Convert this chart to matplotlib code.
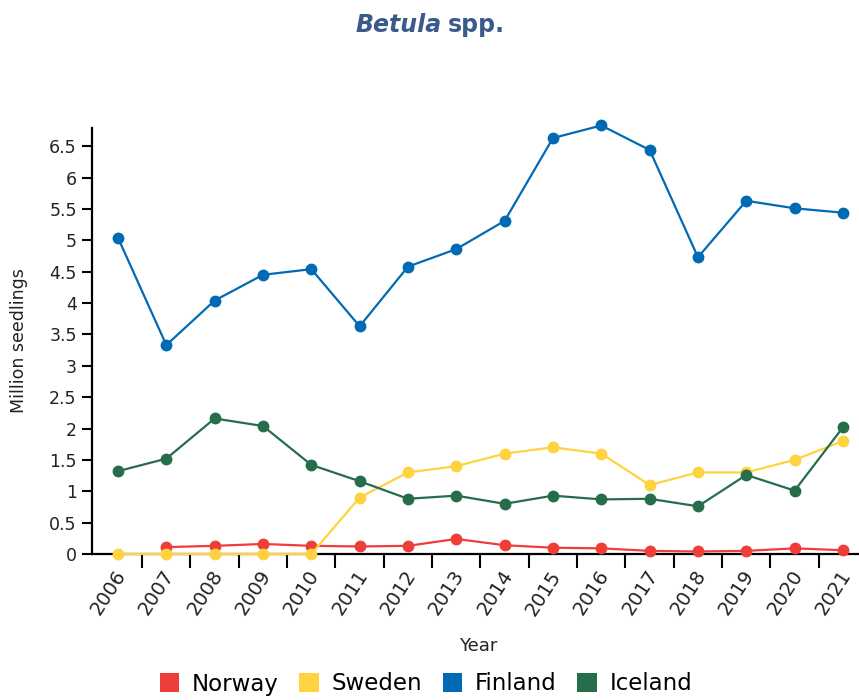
import numpy as np
import matplotlib
matplotlib.use('Agg')
import matplotlib.pyplot as plt
import matplotlib.transforms as mtransforms
from matplotlib.patches import Patch

plt.rcParams['font.family'] = ['DejaVu Sans']

years = np.arange(2006, 2022)

# Million seedlings per country
norway = [np.nan, 0.11, 0.13, 0.16, 0.13, 0.12, 0.13, 0.24, 0.14, 0.10, 0.09, 0.05, 0.04, 0.05, 0.09, 0.06]
sweden = [0.0, 0.0, 0.0, 0.0, 0.0, 0.90, 1.30, 1.40, 1.60, 1.70, 1.60, 1.10, 1.30, 1.30, 1.50, 1.80]
finland = [5.04, 3.33, 4.04, 4.45, 4.54, 3.63, 4.58, 4.86, 5.31, 6.63, 6.83, 6.44, 4.73, 5.63, 5.51, 5.44]
iceland = [1.32, 1.52, 2.16, 2.04, 1.42, 1.16, 0.88, 0.93, 0.80, 0.93, 0.87, 0.88, 0.76, 1.26, 1.01, 2.02]

series = ['Norway', 'Sweden', 'Finland', 'Iceland']
colors = ['#EF3E3A', '#FFD23F', '#006AB4', '#266D4C']

fig = plt.figure(figsize=(8.59, 7.0), dpi=100)
W, H = 859, 700
ax = fig.add_axes([92 / W, 146 / H, (W - 92) / W, 426 / H])

for name, vals, c in zip(series, [norway, sweden, finland, iceland], colors):
    ax.plot(years, vals, color=c, lw=1.6, marker='o', ms=7.5, mec=c, mfc=c, clip_on=False, zorder=3)

ax.set_xlim(2006 - 26 / 48.33, 2006 + (W - 118) / 48.33)
ax.set_ylim(0, 6.79)

ax.set_yticks(np.arange(0, 7.0, 0.5))
ax.set_yticklabels(['%g' % v for v in np.arange(0, 7.0, 0.5)], fontsize=12.5, color='#222222')

# labels under each year, tick marks between years
ax.set_xticks(years)
ax.set_xticklabels([str(y) for y in years], rotation=57, ha='right', va='center',
                   rotation_mode='anchor', fontsize=14, color='#222222')
ax.tick_params(axis='x', which='major', length=0, pad=13)
shift = mtransforms.ScaledTranslation(4 / 100, 0, fig.dpi_scale_trans)
for lbl in ax.get_xticklabels():
    lbl.set_transform(lbl.get_transform() + shift)
ax.set_xticks(years[:-1] + 0.5, minor=True)
ax.tick_params(axis='x', which='minor', length=10, width=1.5, color='black')
ax.tick_params(axis='y', length=7, width=1.5, pad=4)

for s in ['top', 'right']:
    ax.spines[s].set_visible(False)
for s in ['left', 'bottom']:
    ax.spines[s].set_linewidth(1.6)

ax.set_ylabel('Million seedlings', fontsize=12.5, color='#222222')
ax.yaxis.set_label_coords(-64 / (W - 92), 0.5)
fig.text(478 / W, 1 - 646 / H, 'Year', ha='center', va='center', fontsize=13, color='#222222')

# title: italic genus + upright "spp."
fig.text(442 / W, 1 - 25 / H, 'Betula', ha='right', va='center', fontsize=17,
         fontweight='bold', style='italic', color='#3A5A8C')
fig.text(448 / W, 1 - 25 / H, 'spp.', ha='left', va='center', fontsize=17,
         fontweight='bold', color='#3A5A8C')

handles = [Patch(facecolor=c, edgecolor='none', label=n) for n, c in zip(series, colors)]
fig.legend(handles=handles, loc='center', bbox_to_anchor=(426 / W, 1 - 684 / H), ncol=4,
           frameon=False, fontsize=16.5, handlelength=0.85, handleheight=0.85,
           handletextpad=0.55, columnspacing=0.9)

fig.savefig('out.png', dpi=100)
